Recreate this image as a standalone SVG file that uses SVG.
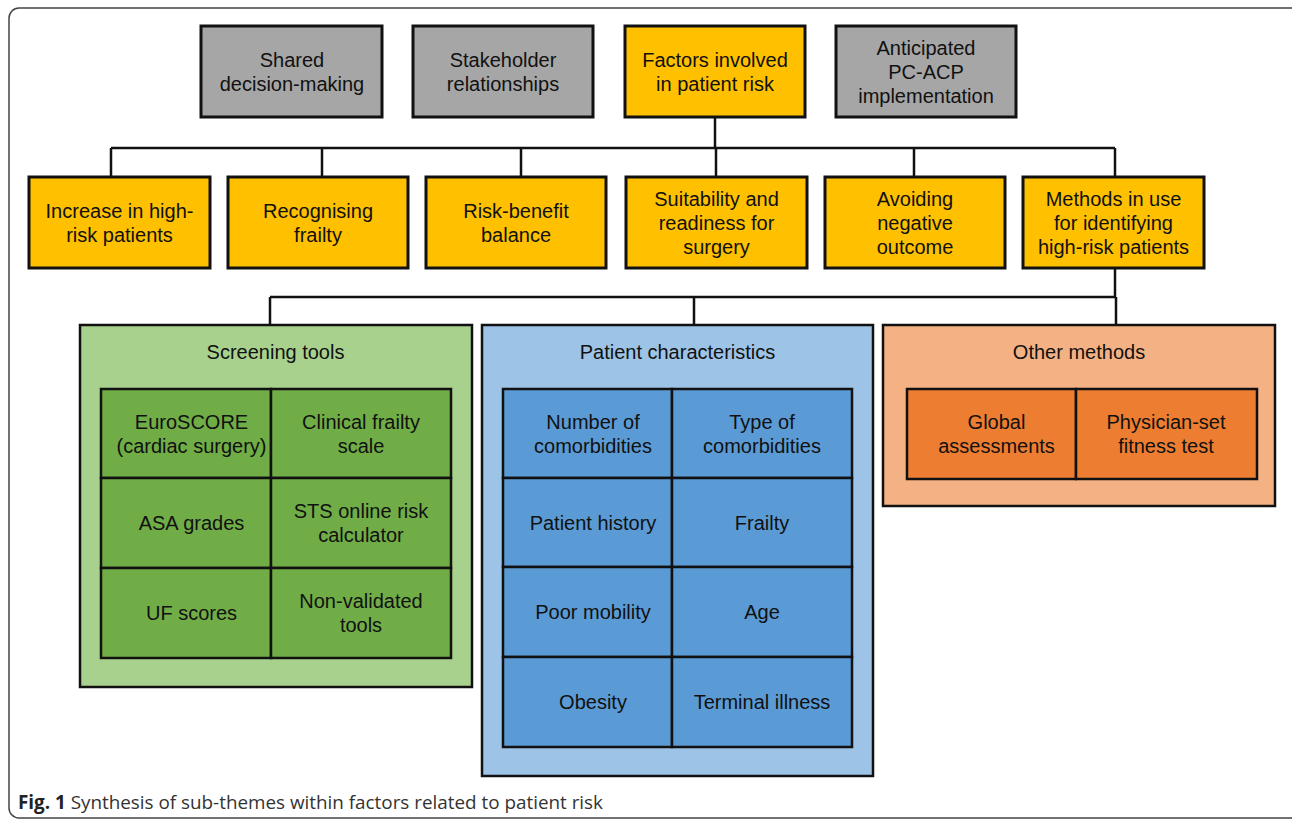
<svg xmlns="http://www.w3.org/2000/svg" width="1292" height="820" viewBox="0 0 1292 820">
<style>
text{font-family:"Liberation Sans",Arial,sans-serif;font-size:20px;fill:#111;text-anchor:middle}
.box{stroke:#111;stroke-width:3}
.gray{fill:#A6A6A6}
.yel{fill:#FFC000}
.cont{stroke:#111;stroke-width:2.5}
.cell{stroke:#111;stroke-width:2.5}
.conn{fill:none;stroke:#111;stroke-width:2.5}
.cap{font-family:"Open Sans","Liberation Sans",sans-serif;font-size:19px;fill:#333;text-anchor:start}
</style>
<rect x="9" y="8" width="1300" height="810" rx="10" fill="#fff" stroke="#444" stroke-width="1.5"/>
<g id="connectors">
<path class="conn" d="M715 117V148M111 148H1115M111 148V177M322 148V177M521 148V177M716 148V177M914 148V177M1115 148V177"/>
<path class="conn" d="M1115 268V297M270 297H1116M270 297V325M694 297V325M1116 297V325"/>
</g>
<g id="shared"><rect class="box gray" x="201" y="26" width="181" height="91"/><text x="292" y="67">Shared</text><text x="292" y="91">decision-making</text></g>
<g id="stakeholder"><rect class="box gray" x="413" y="26" width="180" height="91"/><text x="503" y="67">Stakeholder</text><text x="503" y="91">relationships</text></g>
<g id="factors"><rect class="box yel" x="625" y="26" width="180" height="91"/><text x="715" y="67">Factors involved</text><text x="715" y="91">in patient risk</text></g>
<g id="anticipated"><rect class="box gray" x="836" y="26" width="180" height="91"/><text x="926" y="55">Anticipated</text><text x="926" y="79">PC-ACP</text><text x="926" y="103">implementation</text></g>
<g id="increase"><rect class="box yel" x="29" y="177" width="181" height="91"/><text x="119.5" y="218">Increase in high-</text><text x="119.5" y="242">risk patients</text></g>
<g id="frailty"><rect class="box yel" x="228" y="177" width="180" height="91"/><text x="318" y="218">Recognising</text><text x="318" y="242">frailty</text></g>
<g id="riskbenefit"><rect class="box yel" x="426" y="177" width="180" height="91"/><text x="516" y="218">Risk-benefit</text><text x="516" y="242">balance</text></g>
<g id="suitability"><rect class="box yel" x="626" y="177" width="181" height="91"/><text x="716.5" y="206">Suitability and</text><text x="716.5" y="230">readiness for</text><text x="716.5" y="254">surgery</text></g>
<g id="avoiding"><rect class="box yel" x="825" y="177" width="180" height="91"/><text x="915" y="206">Avoiding</text><text x="915" y="230">negative</text><text x="915" y="254">outcome</text></g>
<g id="methods"><rect class="box yel" x="1023" y="177" width="181" height="91"/><text x="1113.5" y="206">Methods in use</text><text x="1113.5" y="230">for identifying</text><text x="1113.5" y="254">high-risk patients</text></g>
<g id="screening">
<rect class="cont" x="80" y="325" width="392" height="362" fill="#A9D18E"/>
<text x="275.5" y="359">Screening tools</text>
<g fill="#70AD47">
<rect class="cell" x="101" y="389" width="170" height="89"/><rect class="cell" x="271" y="389" width="180" height="89"/>
<rect class="cell" x="101" y="478" width="170" height="90"/><rect class="cell" x="271" y="478" width="180" height="90"/>
<rect class="cell" x="101" y="568" width="170" height="90"/><rect class="cell" x="271" y="568" width="180" height="90"/>
</g>
<text x="191.5" y="429">EuroSCORE</text><text x="191.5" y="453">(cardiac surgery)</text>
<text x="361" y="429">Clinical frailty</text><text x="361" y="453">scale</text>
<text x="191.5" y="530">ASA grades</text>
<text x="361" y="518">STS online risk</text><text x="361" y="542">calculator</text>
<text x="191.5" y="620">UF scores</text>
<text x="361" y="608">Non-validated</text><text x="361" y="632">tools</text>
</g>
<g id="patient">
<rect class="cont" x="482" y="325" width="391" height="451" fill="#9DC3E6"/>
<text x="677.5" y="359">Patient characteristics</text>
<g fill="#5B9BD5">
<rect class="cell" x="503" y="389" width="169" height="89"/><rect class="cell" x="672" y="389" width="180" height="89"/>
<rect class="cell" x="503" y="478" width="169" height="89"/><rect class="cell" x="672" y="478" width="180" height="89"/>
<rect class="cell" x="503" y="567" width="169" height="90"/><rect class="cell" x="672" y="567" width="180" height="90"/>
<rect class="cell" x="503" y="657" width="169" height="90"/><rect class="cell" x="672" y="657" width="180" height="90"/>
</g>
<text x="593" y="429">Number of</text><text x="593" y="453">comorbidities</text>
<text x="762" y="429">Type of</text><text x="762" y="453">comorbidities</text>
<text x="593" y="530">Patient history</text>
<text x="762" y="530">Frailty</text>
<text x="593" y="619">Poor mobility</text>
<text x="762" y="619">Age</text>
<text x="593" y="709">Obesity</text>
<text x="762" y="709">Terminal illness</text>
</g>
<g id="other">
<rect class="cont" x="883" y="325" width="392" height="181" fill="#F4B183"/>
<text x="1079" y="359">Other methods</text>
<g fill="#ED7D31">
<rect class="cell" x="907" y="389" width="169" height="90"/><rect class="cell" x="1076" y="389" width="181" height="90"/>
</g>
<text x="996.5" y="429">Global</text><text x="996.5" y="453">assessments</text>
<text x="1166" y="429">Physician-set</text><text x="1166" y="453">fitness test</text>
</g>
<text class="cap" x="18" y="809" textLength="585" lengthAdjust="spacingAndGlyphs"><tspan font-weight="bold" fill="#222">Fig. 1</tspan> Synthesis of sub-themes within factors related to patient risk</text>
</svg>
